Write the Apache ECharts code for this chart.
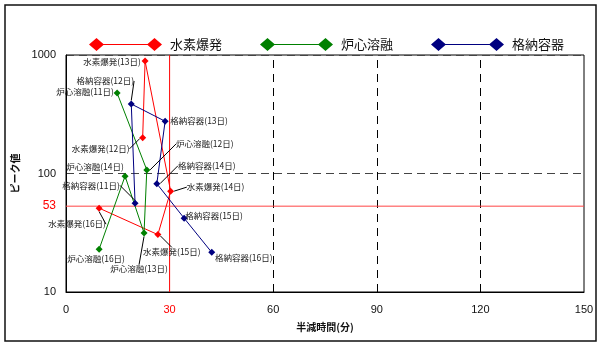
<!DOCTYPE html>
<html>
<head>
<meta charset="utf-8">
<script src="https://cdn.jsdelivr.net/npm/echarts@6/dist/echarts.min.js"></script>
<style>
  html, body { margin: 0; padding: 0; background: #fff; }
  #chart { width: 598px; height: 343px; }
</style>
</head>
<body>
<div id="chart"></div>
<script>
// Half-life (minutes) vs. peak value for three accident scenarios
const seriesNames = ['水素爆発', '炉心溶融', '格納容器'];

const h2Days = ['12日', '13日', '14日', '15日', '16日'];
const h2X = [22.2, 22.9, 30.3, 26.6, 9.6];
const h2Y = [200, 890, 71, 30.5, 51];

const coreDays = ['11日', '12日', '13日', '14日', '16日'];
const coreX = [14.8, 23.4, 22.6, 17.1, 9.6];
const coreY = [478, 107, 31.5, 95, 23];

const pcvDays = ['11日', '12日', '13日', '14日', '15日', '16日'];
const pcvX = [20.0, 18.9, 28.7, 26.3, 34.2, 42.2];
const pcvY = [56, 386, 276, 82, 42, 21.6];

const xMin = 0, xMax = 150, xStep = 30;
const yMin = 10, yMax = 1000;
const xGrid = [60, 90, 120];
const limitX = 30;
const limitY = 53;

const colors = ['#ff0000', '#008000', '#000080'];

// label placement: offset of label centre from its point, and whether a leader line is drawn
const labelOffsets = [
  [[-42, 11, true], [-33, 1, false], [45, -4, true], [14, 17, true], [-22, 16, true]],
  [[-32, -1, false], [58, -26, true], [-5, 36, true], [-30, -9, false], [-3, 10, false]],
  [[-44, -18, true], [-26, -23, true], [34, 0, false], [50, -18, true], [30, -2, false], [32, 5, false]]
];

const groups = [
  { days: h2Days, x: h2X, y: h2Y },
  { days: coreDays, x: coreX, y: coreY },
  { days: pcvDays, x: pcvX, y: pcvY }
];

const legendIcon = 'path://M0,6.5L7.5,0L15,6.5L7.5,13Z M58,6.5L65.5,0L73,6.5L65.5,13Z M7,5.9H66V7.1H7Z';

const cjk = '"Noto Sans CJK JP", "Noto Sans", sans-serif';
const latin = '"Liberation Sans", Arial, sans-serif';

const series = groups.map((g, si) => ({
  name: seriesNames[si],
  type: 'line',
  symbol: 'diamond',
  symbolSize: 7,
  color: colors[si],
  lineStyle: { color: colors[si], width: 1 },
  itemStyle: { color: colors[si] },
  z: 5,
  label: {
    show: true,
    position: 'inside',
    fontFamily: cjk,
    fontSize: 8.5,
    color: '#222',
    formatter: (p) => seriesNames[si] + '(' + g.days[p.dataIndex] + ')'
  },
  labelLine: { show: true, lineStyle: { color: '#000', width: 1 } },
  data: g.x.map((xv, i) => ({
    value: [xv, g.y[i]],
    labelLine: { show: labelOffsets[si][i][2] }
  }))
}));

// vertical dashed gridlines
series[1].markLine = {
  silent: true,
  symbol: 'none',
  animation: false,
  z: 1,
  label: { show: false },
  lineStyle: { color: '#000', width: 1, type: [8, 6] },
  data: xGrid.map((v) => [{ coord: [v, yMin] }, { coord: [v, yMax] }])
};

const chart = echarts.init(document.getElementById('chart'), null, { renderer: 'canvas' });

const frame = {
  id: 'frame',
  type: 'rect',
  shape: { x: 5, y: 5, width: 591, height: 336 },
  style: { fill: 'none', stroke: '#111', lineWidth: 1.5 },
  z: 100
};

chart.setOption({
  backgroundColor: '#fff',
  animation: false,
  graphic: [frame],
  legend: {
    left: 84,
    top: 33,
    itemWidth: 73,
    itemHeight: 13,
    itemGap: 38,
    icon: legendIcon,
    textStyle: { fontFamily: cjk, fontSize: 13, color: '#111', padding: [0, 0, 0, 3] },
    data: seriesNames
  },
  grid: { left: 66, top: 55, right: 14, bottom: 51, show: true, borderColor: '#000', borderWidth: 1, backgroundColor: 'transparent' },
  xAxis: {
    type: 'value',
    min: xMin,
    max: xMax,
    interval: xStep,
    name: '半減時間(分)',
    nameLocation: 'middle',
    nameGap: 30,
    nameTextStyle: { fontFamily: cjk, fontSize: 10, fontWeight: 'bold', color: '#111' },
    axisLine: { show: true, lineStyle: { color: '#000' } },
    axisTick: { show: false },
    axisLabel: {
      margin: 12,
      fontFamily: latin,
      fontSize: 11,
      color: '#111',
      formatter: (v) => (v === limitX ? '{r|' + v + '}' : String(v)),
      rich: { r: { color: '#ff0000', fontFamily: latin, fontSize: 11 } }
    },
    splitLine: { show: false }
  },
  yAxis: {
    type: 'log',
    logBase: 10,
    min: yMin,
    max: yMax,
    name: 'ピーク値',
    nameLocation: 'middle',
    nameGap: 36,
    nameRotate: 90,
    nameTextStyle: { fontFamily: cjk, fontSize: 10, fontWeight: 'bold', color: '#111' },
    axisLine: { show: true, lineStyle: { color: '#000' } },
    axisTick: { show: false },
    axisLabel: { margin: 10, fontFamily: latin, fontSize: 11, color: '#111', formatter: (v) => String(Math.round(v)) },
    splitLine: { show: true, lineStyle: { color: '#444', type: [8, 5], width: 1 } }
  },
  labelLayout: (params) => {
    const row = labelOffsets[params.seriesIndex];
    const o = row && row[params.dataIndex];
    if (!o) return {};
    return { dx: o[0], dy: o[1] };
  },
  series: series
});

// reference limits (half-life 30 min, peak 53), placed through the grid's own scales
const toPx = (pt) => chart.convertToPixel({ gridIndex: 0 }, pt);
const vA = toPx([limitX, yMin]);
const vB = toPx([limitX, yMax]);
const hA = toPx([xMin, limitY]);
const hB = toPx([xMax, limitY]);

chart.setOption({
  graphic: [
    frame,
    {
      id: 'limitX',
      type: 'line',
      shape: { x1: vA[0], y1: vA[1], x2: vB[0], y2: vB[1] },
      style: { stroke: '#ff0000', lineWidth: 1 },
      silent: true,
      z: 4
    },
    {
      id: 'limitY',
      type: 'line',
      shape: { x1: hA[0], y1: hA[1], x2: hB[0], y2: hB[1] },
      style: { stroke: '#ff4444', lineWidth: 1 },
      silent: true,
      z: 4
    },
    {
      id: 'limitYLabel',
      type: 'text',
      x: hA[0] - 10,
      y: hA[1],
      style: {
        text: String(limitY),
        fill: '#ff0000',
        font: '12px "Liberation Sans", Arial, sans-serif',
        align: 'right',
        verticalAlign: 'middle'
      },
      silent: true,
      z: 4
    }
  ]
});
</script>
</body>
</html>
